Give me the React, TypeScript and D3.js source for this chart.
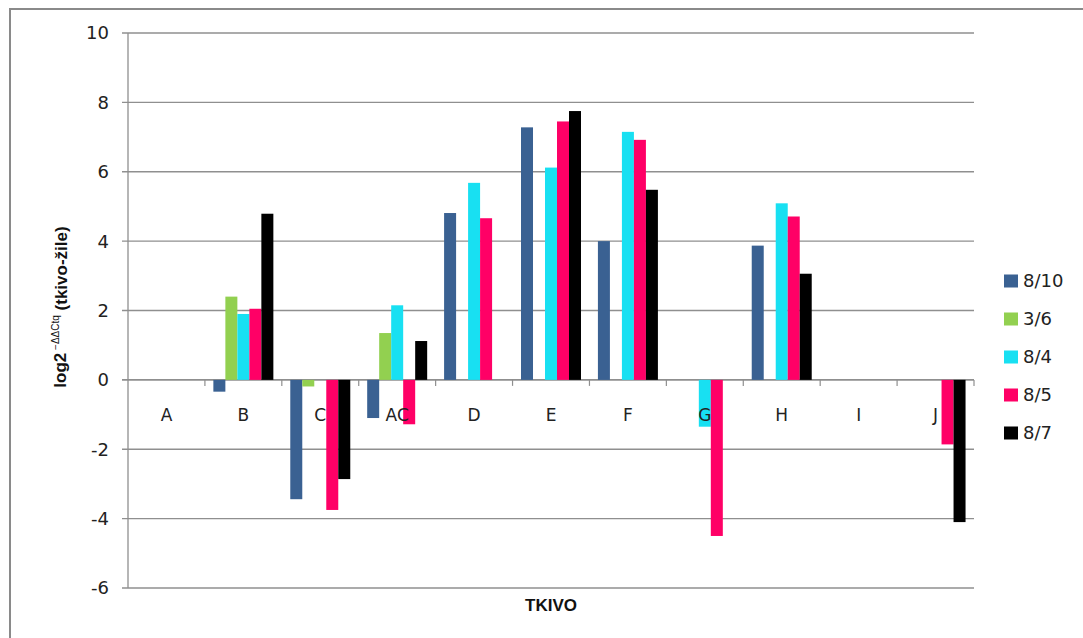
import React from "react";
import * as d3 from "d3";

// Categories (tissues) along the x axis
const categories = ["A", "B", "C", "AC", "D", "E", "F", "G", "H", "I", "J"];

// Series names, one per sample
const seriesNames = ["8/10", "3/6", "8/4", "8/5", "8/7"];

// log2 -ΔΔCtq values per series, in category order
const s8_10 = [0, -0.34, -3.44, -1.1, 4.81, 7.28, 4.0, 0, 3.87, 0, 0];
const s3_6 = [0, 2.4, -0.19, 1.35, 0, 0, 0, 0, 0, 0, 0];
const s8_4 = [0, 1.9, 0, 2.15, 5.68, 6.12, 7.15, -1.35, 5.09, 0, 0];
const s8_5 = [0, 2.05, -3.75, -1.28, 4.66, 7.45, 6.92, -4.5, 4.71, 0, -1.86];
const s8_7 = [0, 4.79, -2.86, 1.12, 0, 7.75, 5.48, 0, 3.06, 0, -4.1];

const seriesValues = [s8_10, s3_6, s8_4, s8_5, s8_7];
const seriesColors = ["#3A6192", "#92D050", "#18E0F2", "#FF0066", "#000000"];

// Y axis ticks
const yTicks = [-6, -4, -2, 0, 2, 4, 6, 8, 10];

const W = 1083;
const H = 638;
const left = 128;
const right = 974;
const top = 33;
const bottom = 588;

export default function App() {
  const y = d3.scaleLinear().domain([-6, 10]).range([bottom, top]);
  const x0 = d3.scaleBand<string>().domain(categories).range([left, right]).paddingInner(0).paddingOuter(0);
  const x1 = d3
    .scaleBand<string>()
    .domain(seriesNames)
    .range([0, x0.bandwidth()])
    .paddingInner(0)
    .paddingOuter(0.705);

  const tickFont = "'DejaVu Sans', sans-serif";
  const gridColor = "#8f8f8f";

  return (
    <svg
      width={W}
      height={H}
      style={{ position: "absolute", left: 0, top: 0, background: "#fff" }}
    >
      {/* outer chart frame */}
      <rect x={10} y={9} width={W + 20} height={H + 20} fill="#fff" stroke="#8a8a8a" strokeWidth={2} />

      {/* horizontal gridlines */}
      {yTicks.map((t) => (
        <line
          key={"g" + t}
          x1={left - 6}
          x2={right}
          y1={y(t)}
          y2={y(t)}
          stroke={gridColor}
          strokeWidth={t === 0 ? 1.6 : 1.3}
        />
      ))}

      {/* y axis line */}
      <line x1={left} x2={left} y1={top} y2={bottom} stroke={gridColor} strokeWidth={1.3} />

      {/* y tick labels */}
      {yTicks.map((t) => (
        <text
          key={"yl" + t}
          x={109}
          y={y(t)}
          dy="0.36em"
          textAnchor="end"
          fontFamily={tickFont}
          fontSize={18}
          fill="#222"
        >
          {t}
        </text>
      ))}

      {/* category ticks on the zero line */}
      {categories.map((c) => (
        <line
          key={"t" + c}
          x1={(x0(c) as number) + x0.bandwidth()}
          x2={(x0(c) as number) + x0.bandwidth()}
          y1={y(0)}
          y2={y(0) + 6}
          stroke={gridColor}
          strokeWidth={1.2}
        />
      ))}

      {/* bars */}
      {seriesNames.map((s, si) =>
        categories.map((c, ci) => {
          const v = seriesValues[si][ci];
          if (!v) return null;
          const bx = (x0(c) as number) + (x1(s) as number);
          const y0 = y(0);
          const yv = y(v);
          return (
            <rect
              key={s + c}
              x={bx}
              y={Math.min(y0, yv)}
              width={x1.bandwidth()}
              height={Math.abs(yv - y0)}
              fill={seriesColors[si]}
            />
          );
        })
      )}

      {/* category labels */}
      {categories.map((c) => (
        <text
          key={"c" + c}
          x={(x0(c) as number) + x0.bandwidth() / 2}
          y={y(0) + 35}
          dy="0.36em"
          textAnchor="middle"
          fontFamily={tickFont}
          fontSize={17}
          fill="#222"
        >
          {c}
        </text>
      ))}

      {/* axis titles */}
      <text
        x={(left + right) / 2}
        y={605}
        dy="0.36em"
        textAnchor="middle"
        fontFamily="'Liberation Sans', Arial, sans-serif"
        fontWeight="bold"
        fontSize={17}
        fill="#111"
      >
        TKIVO
      </text>
      <text
        transform={`translate(60, 307) rotate(-90)`}
        textAnchor="middle"
        dy="0.36em"
        fontFamily="'Liberation Sans', Arial, sans-serif"
        fontWeight="bold"
        fontSize={17}
        fill="#111"
      >
        log2
        <tspan fontSize={10} fontWeight="normal" dy="-0.7em">
          {" \u2212\u0394\u0394Ctq"}
        </tspan>
        <tspan dy="0.45em">{" (tkivo-žile)"}</tspan>
      </text>

      {/* legend */}
      {seriesNames.map((s, i) => {
        const cy = 281 + i * 38;
        return (
          <g key={"lg" + s}>
            <rect x={1004} y={cy - 6.5} width={14} height={13} fill={seriesColors[i]} />
            <text x={1023} y={cy} dy="0.36em" fontFamily={tickFont} fontSize={18} fill="#222">
              {s}
            </text>
          </g>
        );
      })}
    </svg>
  );
}
